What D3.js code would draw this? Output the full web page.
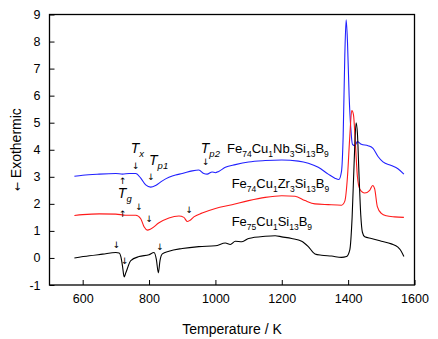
<!DOCTYPE html>
<html>
<head>
<meta charset="utf-8">
<script src="https://cdn.jsdelivr.net/npm/d3@7"></script>
<style>
  html, body { margin: 0; padding: 0; background: #fff; }
  svg { display: block; font-family: "Liberation Sans", Arial, sans-serif; }
</style>
</head>
<body>
<svg id="chart" width="438" height="339"></svg>
<script>
// DSC traces (heat flow, arbitrary offset units) vs temperature in K
const tempNb = [575, 600, 650, 700, 720, 740, 760, 775, 790, 805, 820, 840, 860, 880, 900, 930, 950, 965, 975, 990, 1000, 1010, 1030, 1060, 1100, 1150, 1200, 1250, 1280, 1310, 1340, 1360, 1372, 1380, 1385, 1390, 1394, 1398, 1403, 1408, 1413, 1420, 1428, 1440, 1460, 1475, 1490, 1505, 1530, 1550, 1568];
const heatNb = [3.02, 3.06, 3.10, 3.12, 3.10, 3.12, 3.12, 2.95, 2.70, 2.62, 2.68, 2.85, 2.98, 3.07, 3.12, 3.22, 3.25, 3.12, 3.10, 3.18, 3.15, 3.20, 3.35, 3.45, 3.55, 3.60, 3.62, 3.58, 3.50, 3.35, 3.10, 2.95, 2.90, 3.2, 4.5, 7.5, 8.8, 8.0, 6.0, 4.8, 4.2, 4.15, 4.3, 4.2, 4.15, 4.05, 3.75, 3.55, 3.42, 3.30, 3.10];

const tempZr = [575, 600, 650, 700, 730, 760, 775, 785, 795, 805, 830, 860, 890, 905, 915, 922, 935, 960, 1000, 1050, 1100, 1150, 1200, 1240, 1270, 1300, 1340, 1380, 1390, 1398, 1405, 1411, 1416, 1422, 1428, 1435, 1450, 1465, 1474, 1480, 1488, 1500, 1515, 1540, 1568];
const heatZr = [1.57, 1.60, 1.63, 1.62, 1.58, 1.58, 1.45, 1.15, 1.03, 1.07, 1.30, 1.48, 1.55, 1.50, 1.35, 1.38, 1.52, 1.66, 1.83, 1.97, 2.12, 2.24, 2.30, 2.28, 2.12, 2.00, 1.97, 1.95, 2.1, 3.0, 4.5, 5.45, 5.3, 4.2, 3.0, 2.55, 2.40, 2.50, 2.68, 2.55, 1.90, 1.65, 1.56, 1.52, 1.50];

const tempFe = [575, 620, 660, 700, 710, 715, 720, 725, 730, 745, 770, 800, 815, 822, 828, 833, 840, 860, 900, 950, 1000, 1030, 1045, 1060, 1080, 1100, 1150, 1180, 1200, 1230, 1260, 1280, 1300, 1320, 1350, 1380, 1395, 1405, 1412, 1418, 1424, 1428, 1433, 1438, 1443, 1450, 1470, 1500, 1530, 1550, 1560, 1568];
const heatFe = [0.00, 0.08, 0.14, 0.20, 0.18, 0.05, -0.30, -0.70, -0.55, -0.10, 0.05, 0.12, 0.20, -0.05, -0.55, -0.10, 0.15, 0.25, 0.35, 0.42, 0.45, 0.55, 0.50, 0.62, 0.60, 0.72, 0.80, 0.82, 0.78, 0.72, 0.62, 0.42, 0.15, 0.10, 0.07, 0.02, 0.05, 0.3, 1.5, 3.5, 5.0, 4.6, 3.0, 1.6, 0.95, 0.78, 0.72, 0.62, 0.52, 0.40, 0.25, 0.05];

const xTicks = [600, 800, 1000, 1200, 1400, 1600];
const yTicks = [-1, 0, 1, 2, 3, 4, 5, 6, 7, 8, 9];

// Arrow markers (baseline position): [temperature, heat-flow position, glyph]
const arrows = [
  [760, 3.27, "↓"], [806, 2.90, "↓"], [971, 3.42, "↓"], [721, 2.72, "↑"],
  [721, 1.53, "↑"], [770, 1.77, "↓"], [801, 1.34, "↓"], [921, 1.67, "↓"],
  [702, 0.35, "↓"], [727, -0.21, "↓"], [833, 0.29, "↓"]
];
// Temperature markers: [temperature, heat-flow position, subscript]
const markers = [[745, 3.88, "x"], [800, 3.44, "p1"], [956, 3.88, "p2"], [706, 2.22, "g"]];
// Alloy labels: [temperature, heat-flow position, [text, isSubscript]...]
const alloys = [
  [1035, 3.88, [["Fe", 0], ["74", 1], ["Cu", 0], ["1", 1], ["Nb", 0], ["3", 1], ["Si", 0], ["13", 1], ["B", 0], ["9", 1]]],
  [1049, 2.60, [["Fe", 0], ["74", 1], ["Cu", 0], ["1", 1], ["Zr", 0], ["3", 1], ["Si", 0], ["13", 1], ["B", 0], ["9", 1]]],
  [1049, 1.18, [["Fe", 0], ["75", 1], ["Cu", 0], ["1", 1], ["Si", 0], ["13", 1], ["B", 0], ["9", 1]]]
];

const svg = d3.select("#chart");
const margin = { left: 49.5, right: 23.5, top: 14.5, bottom: 54 };
const W = 438, H = 339;

const x = d3.scaleLinear().domain([500, 1600]).range([margin.left, W - margin.right]);
const y = d3.scaleLinear().domain([-1, 9]).range([H - margin.bottom, margin.top]);

const fmt = d => String(d);
const xAxis = d3.axisBottom(x).tickValues(xTicks).tickFormat(fmt).tickSizeInner(-5).tickSizeOuter(0).tickPadding(9);
const xMinor = d3.axisBottom(x).tickValues(d3.range(500, 1601, 100)).tickFormat("").tickSizeInner(-3).tickSizeOuter(0);
const yAxis = d3.axisLeft(y).tickValues(yTicks).tickFormat(fmt).tickSizeInner(-5).tickSizeOuter(0).tickPadding(9);
const yMinor = d3.axisLeft(y).tickValues(d3.range(-1, 9.01, 0.5)).tickFormat("").tickSizeInner(-3).tickSizeOuter(0);

const gx = svg.append("g").attr("transform", `translate(0,${H - margin.bottom})`);
gx.call(xMinor);
gx.call(xAxis);
const gy = svg.append("g").attr("transform", `translate(${margin.left},0)`);
gy.call(yMinor);
gy.call(yAxis);
svg.selectAll(".domain").remove();
svg.selectAll(".tick line").attr("stroke", "#000").attr("stroke-width", 1);
svg.selectAll(".tick text").attr("font-size", 12.5).attr("fill", "#000")
  .attr("font-family", "'Liberation Sans', Arial, sans-serif");

// frame
svg.append("rect")
  .attr("x", x(500)).attr("y", y(9))
  .attr("width", x(1600) - x(500)).attr("height", y(-1) - y(9))
  .attr("fill", "none").attr("stroke", "#000").attr("stroke-width", 1.3);

const line = d3.line().x(d => x(d[0])).y(d => y(d[1])).curve(d3.curveMonotoneX);
const series = [
  [tempNb, heatNb, "#2020ff"],
  [tempZr, heatZr, "#ff1a1a"],
  [tempFe, heatFe, "#000000"]
];
series.forEach(([t, v, c]) => {
  svg.append("path")
    .datum(d3.zip(t, v))
    .attr("d", line)
    .attr("fill", "none")
    .attr("stroke", c)
    .attr("stroke-width", 1.1);
});

// arrows
svg.selectAll("text.arrow").data(arrows).join("text")
  .attr("class", "arrow")
  .attr("x", d => x(d[0])).attr("y", d => y(d[1]))
  .attr("text-anchor", "middle")
  .attr("font-family", "'DejaVu Sans', sans-serif")
  .attr("font-size", 9)
  .attr("fill", "#000")
  .text(d => d[2] + "\uFE0E");

// T markers
markers.forEach(([t, v, sub]) => {
  const txt = svg.append("text")
    .attr("x", x(t)).attr("y", y(v))
    .attr("font-size", 14).attr("font-style", "italic");
  txt.append("tspan").text("T");
  txt.append("tspan").attr("dy", 4).attr("font-size", 9.5).text(sub);
});

// alloy labels
alloys.forEach(([t, v, parts]) => {
  const txt = svg.append("text")
    .attr("x", x(t)).attr("y", y(v))
    .attr("font-size", 13);
  let down = false;
  parts.forEach(([s, isSub]) => {
    const ts = txt.append("tspan").text(s);
    if (isSub && !down) { ts.attr("dy", 4).attr("font-size", 8.5); down = true; }
    else if (isSub) { ts.attr("font-size", 8.5); }
    else if (down) { ts.attr("dy", -4); down = false; }
  });
});

// axis titles
svg.append("text")
  .attr("x", (x(500) + x(1600)) / 2).attr("y", 334)
  .attr("text-anchor", "middle").attr("font-size", 14)
  .text("Temperature / K");
const yt = svg.append("text")
  .attr("transform", `translate(21,${(y(-1) + y(9)) / 2}) rotate(-90)`)
  .attr("text-anchor", "middle").attr("font-size", 14);
yt.append("tspan").attr("font-family", "'DejaVu Sans', sans-serif").attr("font-size", 11).text("←\uFE0E");
yt.append("tspan").text(" Exothermic");
</script>
</body>
</html>
